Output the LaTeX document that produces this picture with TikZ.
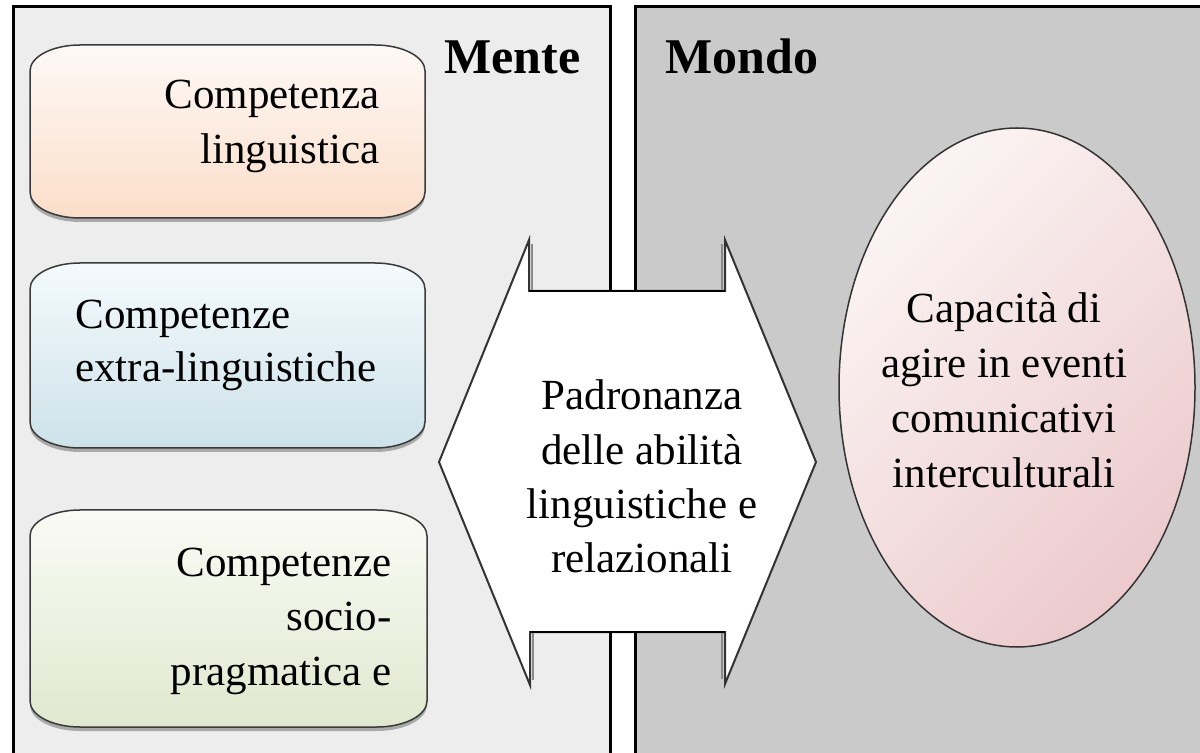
\documentclass[tikz,border=0pt]{standalone}
\usepackage{fontspec}
\setmainfont{Liberation Serif}
\usetikzlibrary{shapes.geometric}
\definecolor{leftbg}{HTML}{EDEDED}
\definecolor{rightbg}{HTML}{CACACA}
\definecolor{boxline}{HTML}{3A3A3A}
\definecolor{shadowgray}{HTML}{A9A9A9}
\definecolor{bAtop}{HTML}{FEF9F6}
\definecolor{bAbot}{HTML}{FBDECA}
\definecolor{bBtop}{HTML}{F4FAFD}
\definecolor{bBbot}{HTML}{CDE2E9}
\definecolor{bCtop}{HTML}{FAFBF5}
\definecolor{bCbot}{HTML}{E0E8CF}
\definecolor{elltop}{HTML}{FBF4F3}
\definecolor{ellbot}{HTML}{ECCACD}
\definecolor{darkline}{HTML}{333333}
\definecolor{notchgray}{HTML}{8A8A8A}
\newcommand\txtlines[2]{\begin{tabular}[t]{@{}#1@{}}#2\end{tabular}}
\newcommand\eboxpath[4]{(#1+50,#2) -- (#3-50,#2) arc[start angle=270,end angle=360,x radius=50,y radius=26] -- (#3,#4-26) arc[start angle=0,end angle=90,x radius=50,y radius=26] -- (#1+50,#4) arc[start angle=90,end angle=180,x radius=50,y radius=26] -- (#1,#2+26) arc[start angle=180,end angle=270,x radius=50,y radius=26] -- cycle}
\tikzset{
  panel/.style={draw=black, line width=1.5pt},
  boxshape/.style={draw=boxline, line width=0.75pt},
  boxshadow/.style={fill=shadowgray},
  txt/.style={inner sep=0pt, font=\fontsize{21.5}{#1}\selectfont},
  txt/.default={27.5pt},
  title/.style={inner sep=0pt, anchor=base west, font=\fontsize{25}{30}\selectfont\bfseries},
  arrowshape/.style={draw=darkline, line width=1pt, fill=white, line join=miter},
  notch/.style={draw=notchgray, line width=1.2pt},
  shaftline/.style={draw=black, line width=1.4pt},
}
\begin{document}
\begin{tikzpicture}[x=0.5pt,y=-0.5pt]
\useasboundingbox (0,0) rectangle (1200,753);
\fill[white] (0,0) rectangle (1200,753);
\begin{scope}
\clip (0,0) rectangle (1200,753);
\path[panel, fill=leftbg] (13,7) rectangle (610,780);
\path[panel, fill=rightbg] (635,7) rectangle (1230,780);
\end{scope}
% titles
\node[title] (mente) at (444,74) {Mente};
\node[title] (mondo) at (665,74) {Mondo};
% box shadows
\fill[boxshadow, yshift=-2pt] \eboxpath{30}{45}{425}{218};
\fill[boxshadow, yshift=-2pt] \eboxpath{30}{263}{425}{448};
\fill[boxshadow, yshift=-2pt] \eboxpath{30}{510}{427}{727};
% boxes
\path[boxshape, top color=bAtop, bottom color=bAbot] \eboxpath{30}{45}{425}{218};
\path[boxshape, top color=bBtop, bottom color=bBbot] \eboxpath{30}{263}{425}{448};
\path[boxshape, top color=bCtop, bottom color=bCbot] \eboxpath{30}{510}{427}{727};
\node[txt=27.5pt, anchor=base east] (ling) at (380,109) {\txtlines{r}{Competenza\\linguistica}};
\node[txt=26.5pt, anchor=base west] (extra) at (75,329) {\txtlines{l}{Competenze\\extra-linguistiche}};
\node[txt=27.5pt, anchor=base east] (socio) at (392,576) {\txtlines{r}{Competenze\\socio-\\pragmatica e}};
% double arrow
\path[arrowshape] (529,240) -- (439,462) -- (530,685) -- (530,632) -- (725,632) -- (725,684) -- (816,462) -- (725,240) -- (725,291) -- (529,291) -- cycle;
\path[notch] (532,244) -- (532,290);
\path[notch] (722,244) -- (722,290);
\path[notch] (533,633) -- (533,680);
\path[notch] (722,633) -- (722,679);
\path[shaftline] (529,291) -- (725,291);
\path[shaftline] (530,632) -- (725,632);
\node[txt=27.15pt, anchor=base] (padr) at (642,410) {\txtlines{c}{Padronanza\\delle abilità\\linguistiche e\\relazionali}};
% ellipse
\node[ellipse, draw=darkline, line width=0.75pt, minimum width=178pt, minimum height=259.5pt, inner sep=0pt, top color=elltop, bottom color=ellbot, shading angle=45] (ell) at (1017,387.5) {};
\node[txt=27.35pt, anchor=base] (capac) at (1004,323) {\txtlines{c}{Capacità di\\agire in eventi\\comunicativi\\interculturali}};
\end{tikzpicture}
\end{document}
